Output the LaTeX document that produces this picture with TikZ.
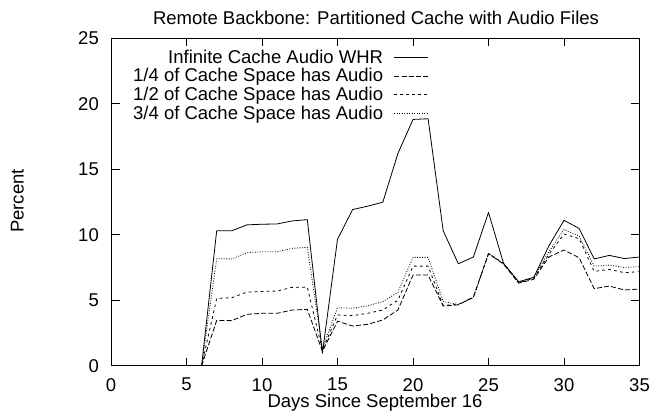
\documentclass[tikz,border=0pt]{standalone}
\usepackage{fontspec}
\setmainfont{Liberation Sans}
\begin{document}
\begin{tikzpicture}[x=1pt,y=1pt,
  txt/.style={inner sep=0pt,font=\fontsize{18.5}{22}\selectfont},
  frame/.style={line width=0.9pt,black},
  curveA/.style={line width=0.8pt,black,line join=round},
  curveB/.style={line width=0.8pt,black,dash pattern=on 5pt off 2.2pt},
  curveC/.style={line width=0.8pt,black,dash pattern=on 2.7pt off 3.3pt},
  curveD/.style={line width=0.8pt,black,dash pattern=on 0.9pt off 1.6pt}]
\useasboundingbox (0,0) rectangle (650,413);
% title and axis labels
\node[txt,anchor=base] (title) at (376,388) {Remote Backbone: Partitioned Cache with Audio Files};
\node[txt,anchor=base] (xlab) at (375,5.4) {Days Since September 16};
\node[txt,rotate=90] (ylab) at (17.3,212) {Percent};
\begin{scope}[shift={(111,47.3)},x=15.1pt,y=13.1pt]
  \draw[frame] (0,0) rectangle (35,25);
  \foreach \d in {0,5,...,35}{
    \draw[frame] (\d,0) -- ++(0,8pt);
    \draw[frame] (\d,25) -- ++(0,-8pt);
    \node[txt] (xt\d) at ([yshift=-19pt]\d,0) {\d};
  }
  \foreach \v in {0,5,...,25}{
    \draw[frame] (0,\v) -- ++(9pt,0);
    \draw[frame] (35,\v) -- ++(-9pt,0);
    \node[txt,anchor=east] (yt\v) at ([xshift=-12pt]0,\v) {\v};
  }
  % data
  \draw[curveA] plot coordinates {(6,0) (7,10.3) (8,10.3) (9,10.75) (10,10.8) (11,10.82) (12,11.05) (13,11.15) (14,0.95) (15,9.65) (16,11.92) (17,12.18) (18,12.48) (19,16.2) (20,18.8) (21,18.85) (22,10.3) (23,7.78) (24,8.3) (25,11.7) (26,7.8) (27,6.4) (28,6.75) (29,9.15) (30,11.1) (31,10.48) (32,8.15) (33,8.42) (34,8.18) (35,8.3)};
  \draw[curveB] plot coordinates {(6,0) (7,3.46) (8,3.44) (9,3.92) (10,4.0) (11,4.0) (12,4.25) (13,4.3) (14,1.1) (15,3.4) (16,3.03) (17,3.16) (18,3.49) (19,4.25) (20,6.92) (21,6.92) (22,4.55) (23,4.65) (24,5.25) (25,8.55) (26,7.75) (27,6.3) (28,6.6) (29,8.3) (30,8.83) (31,8.24) (32,5.88) (33,6.08) (34,5.78) (35,5.85)};
  \draw[curveC] plot coordinates {(6,0) (7,5.14) (8,5.19) (9,5.62) (10,5.67) (11,5.7) (12,5.98) (13,6.0) (14,1.2) (15,3.87) (16,3.82) (17,4.0) (18,4.25) (19,5.0) (20,7.6) (21,7.6) (22,4.6) (23,4.68) (24,5.2) (25,8.55) (26,7.8) (27,6.34) (28,6.67) (29,8.5) (30,10.05) (31,9.7) (32,7.2) (33,7.35) (34,7.1) (35,7.18)};
  \draw[curveD] plot coordinates {(6,0) (7,8.17) (8,8.15) (9,8.63) (10,8.7) (11,8.7) (12,8.96) (13,9.03) (14,1.3) (15,4.43) (16,4.38) (17,4.58) (18,4.89) (19,5.6) (20,8.27) (21,8.27) (22,4.9) (23,4.68) (24,5.2) (25,8.58) (26,7.8) (27,6.4) (28,6.74) (29,8.7) (30,10.4) (31,9.9) (32,7.6) (33,7.68) (34,7.5) (35,7.56)};
\end{scope}
% legend
\node[txt,anchor=base east] (l1) at (383.3,349.7) {Infinite Cache Audio WHR};
\node[txt,anchor=base east] (l2) at (383.3,331.0) {1/4 of Cache Space has Audio};
\node[txt,anchor=base east] (l3) at (383.3,312.4) {1/2 of Cache Space has Audio};
\node[txt,anchor=base east] (l4) at (383.3,293.8) {3/4 of Cache Space has Audio};
\coordinate (s1a) at (394.3,355.7); \coordinate (s1b) at (428.3,355.7);
\coordinate (s2a) at (394.3,336.9); \coordinate (s2b) at (428.3,336.9);
\coordinate (s3a) at (394.3,318.1); \coordinate (s3b) at (428.3,318.1);
\coordinate (s4a) at (394.3,299.3); \coordinate (s4b) at (428.3,299.3);
\draw[curveA] (s1a) -- (s1b);
\draw[curveB] (s2a) -- (s2b);
\draw[curveC] (s3a) -- (s3b);
\draw[curveD] (s4a) -- (s4b);
\end{tikzpicture}
\end{document}
